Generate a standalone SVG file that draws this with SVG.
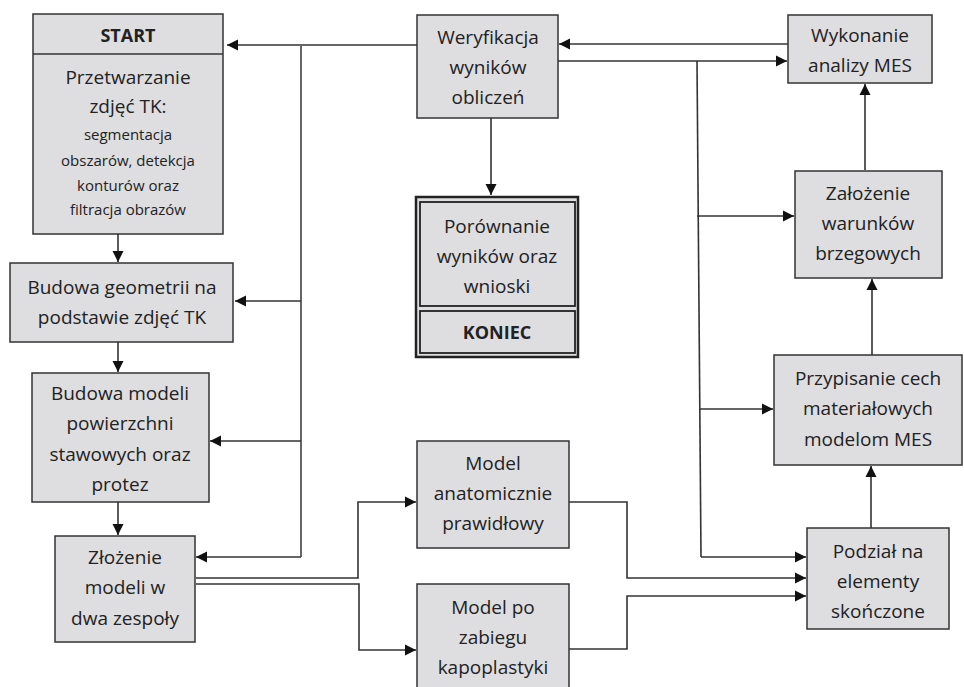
<svg xmlns="http://www.w3.org/2000/svg" width="964" height="687" viewBox="0 0 964 687">
<style>
.box{fill:#dedde0;stroke:#333;stroke-width:1.5}
.t{font-family:"Open Sans","Liberation Sans",sans-serif;font-size:19px;fill:#222;text-anchor:middle}
.s{font-size:15px}
.b{font-weight:bold;font-size:18px}
.c{fill:none;stroke:#333;stroke-width:1.6}
.g{fill:none;stroke:#666;stroke-width:2}
</style>
<defs>
<marker id="ah" markerUnits="userSpaceOnUse" markerWidth="12" markerHeight="12" refX="11" refY="6" orient="auto">
<path d="M0,0.5 L11,6 L0,11.5 Z" fill="#111"/>
</marker>
</defs>
<rect width="964" height="687" fill="#fff"/>

<g id="connectors">
<path class="g" d="M417,45 H227" marker-end="url(#ah)"/>
<path class="g" d="M301,45 V557"/>
<path class="c" d="M301,301 H235" marker-end="url(#ah)"/>
<path class="c" d="M301,441 H210" marker-end="url(#ah)"/>
<path class="c" d="M301,557 H196" marker-end="url(#ah)"/>
<path class="c" d="M788,44 H559" marker-end="url(#ah)"/>
<path class="c" d="M558,61 H787" marker-end="url(#ah)"/>
<path class="c" d="M697,61 L701,557"/>
<path class="c" d="M697,216 H794" marker-end="url(#ah)"/>
<path class="c" d="M699,409 H773" marker-end="url(#ah)"/>
<path class="c" d="M701,557 H806" marker-end="url(#ah)"/>
<path class="c" d="M491,118 V195" marker-end="url(#ah)"/>
<path class="c" d="M865,170 V84" marker-end="url(#ah)"/>
<path class="c" d="M872,355 V279" marker-end="url(#ah)"/>
<path class="c" d="M871,528 V466" marker-end="url(#ah)"/>
<path class="c" d="M118,234 V262" marker-end="url(#ah)"/>
<path class="c" d="M118,342 V372" marker-end="url(#ah)"/>
<path class="c" d="M118,502 V535" marker-end="url(#ah)"/>
<path class="c" d="M196,578 H358 V502 H416" marker-end="url(#ah)"/>
<path class="c" d="M196,584 H359 V650 H416" marker-end="url(#ah)"/>
<path class="c" d="M569,502 H627 V578 H806" marker-end="url(#ah)"/>
<path class="c" d="M569,649 H627 V596 H806" marker-end="url(#ah)"/>
</g>

<g id="start">
<rect class="box" x="33" y="14" width="190" height="220"/>
<line x1="33" y1="54" x2="223" y2="54" stroke="#333" stroke-width="1.5"/>
<text class="t b" x="128" y="42">START</text>
<text class="t" x="128" y="84">Przetwarzanie</text>
<text class="t" x="128" y="113">zdjęć TK:</text>
<text class="t s" x="128" y="140">segmentacja</text>
<text class="t s" x="128" y="166">obszarów, detekcja</text>
<text class="t s" x="128" y="191">konturów oraz</text>
<text class="t s" x="128" y="215">filtracja obrazów</text>
</g>

<g id="geometria">
<rect class="box" x="10" y="263" width="223" height="79"/>
<text class="t" x="122" y="294">Budowa geometrii na</text>
<text class="t" x="122" y="324">podstawie zdjęć TK</text>
</g>

<g id="modele">
<rect class="box" x="32" y="373" width="177" height="129"/>
<text class="t" x="120" y="400">Budowa modeli</text>
<text class="t" x="120" y="430">powierzchni</text>
<text class="t" x="120" y="461">stawowych oraz</text>
<text class="t" x="120" y="491">protez</text>
</g>

<g id="zlozenie">
<rect class="box" x="55" y="536" width="140" height="106"/>
<text class="t" x="125" y="564">Złożenie</text>
<text class="t" x="125" y="594">modeli w</text>
<text class="t" x="125" y="625">dwa zespoły</text>
</g>

<g id="weryfikacja">
<rect class="box" x="417" y="15" width="141" height="103"/>
<text class="t" x="488" y="44">Weryfikacja</text>
<text class="t" x="488" y="74">wyników</text>
<text class="t" x="488" y="104">obliczeń</text>
</g>

<g id="koniec">
<rect x="416" y="197" width="162" height="160" fill="#dedde0" stroke="#222" stroke-width="2.5"/>
<rect x="420" y="202" width="155" height="104" fill="none" stroke="#222" stroke-width="1.8"/>
<rect x="420" y="311" width="155" height="42" fill="none" stroke="#222" stroke-width="1.8"/>
<text class="t" x="497" y="233">Porównanie</text>
<text class="t" x="497" y="263">wyników oraz</text>
<text class="t" x="497" y="293">wnioski</text>
<text class="t b" x="497" y="339">KONIEC</text>
</g>

<g id="anatomiczny">
<rect class="box" x="417" y="441" width="152" height="107"/>
<text class="t" x="493" y="470">Model</text>
<text class="t" x="493" y="500">anatomicznie</text>
<text class="t" x="493" y="530">prawidłowy</text>
</g>

<g id="kapoplastyka">
<rect class="box" x="417" y="584" width="152" height="110"/>
<text class="t" x="493" y="614">Model po</text>
<text class="t" x="493" y="644">zabiegu</text>
<text class="t" x="493" y="674">kapoplastyki</text>
</g>

<g id="wykonanie">
<rect class="box" x="788" y="15" width="144" height="68"/>
<text class="t" x="860" y="42">Wykonanie</text>
<text class="t" x="860" y="72">analizy MES</text>
</g>

<g id="warunki">
<rect class="box" x="795" y="171" width="147" height="107"/>
<text class="t" x="868" y="200">Założenie</text>
<text class="t" x="868" y="230">warunków</text>
<text class="t" x="868" y="260">brzegowych</text>
</g>

<g id="przypisanie">
<rect class="box" x="774" y="355" width="188" height="110"/>
<text class="t" x="868" y="385">Przypisanie cech</text>
<text class="t" x="868" y="415">materiałowych</text>
<text class="t" x="868" y="446">modelom MES</text>
</g>

<g id="podzial">
<rect class="box" x="807" y="528" width="142" height="101"/>
<text class="t" x="878" y="558">Podział na</text>
<text class="t" x="878" y="588">elementy</text>
<text class="t" x="878" y="618">skończone</text>
</g>
</svg>
